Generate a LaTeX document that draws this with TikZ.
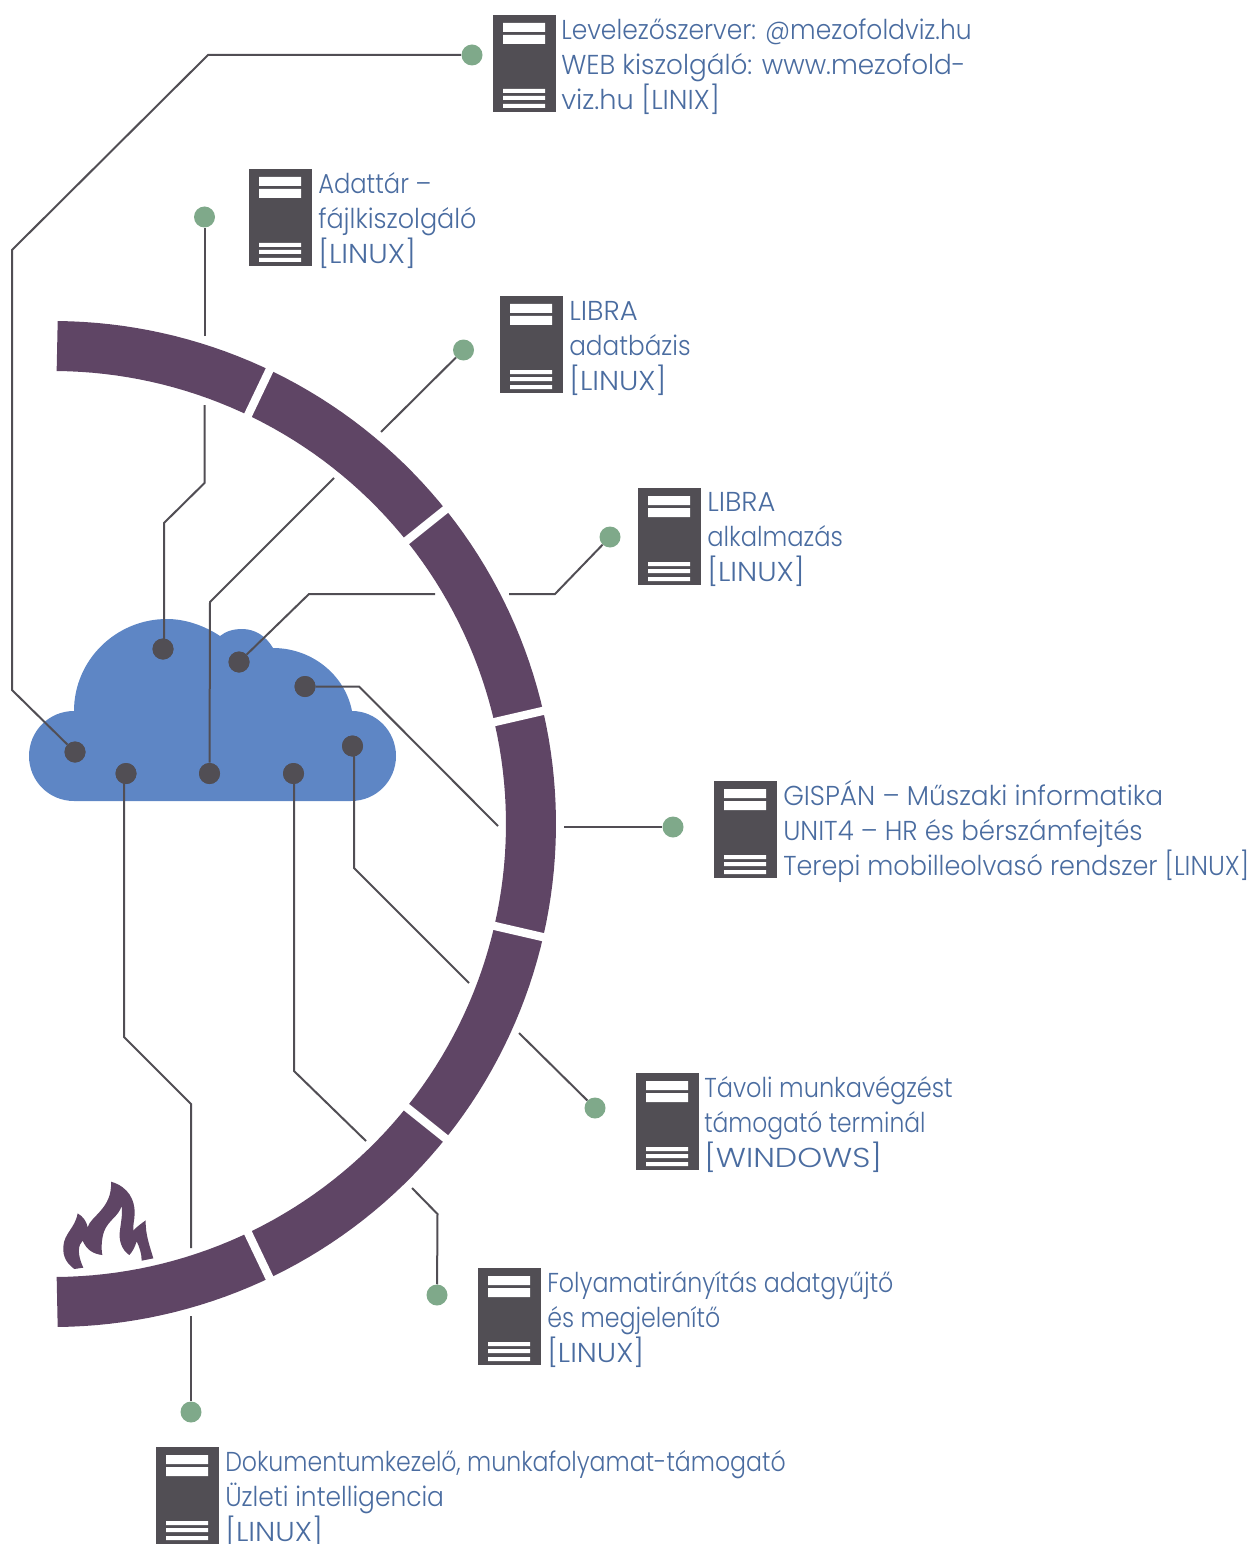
\documentclass[tikz,border=0pt]{standalone}
\usepackage{fontspec}
\setmainfont{Poppins Light}
\definecolor{plum}{HTML}{5F4565}
\definecolor{slatec}{HTML}{514E54}
\definecolor{cloudb}{HTML}{5E86C5}
\definecolor{leafg}{HTML}{7FA98A}
\definecolor{txtb}{HTML}{4A6CA0}
\newcommand{\firstline}{\rule{0pt}{18pt}}
\newcommand{\ls}[2]{{\addfontfeature{FakeStretch=#1}#2}}
\tikzset{
  x=0.75pt,y=-0.75pt,
  conn/.style={draw=slatec,line width=1.5pt,line join=miter},
  hub/.style={circle,fill=slatec,inner sep=0pt,minimum size=15.75pt},
  leaf/.style={circle,fill=leafg,inner sep=0pt,minimum size=15.75pt},
  lab/.style={anchor=north west,inner sep=0pt,align=left,text=txtb,font=\fontsize{20.5}{26.25}\selectfont},
  ring/.style={draw=plum,line width=37.5pt},
  cut/.style={draw=white,line width=6.2pt},
  serverpic/.pic={
    \fill[slatec] (0,0) rectangle (63,97);
    \fill[white] (10,8) rectangle (52,17) (10,20) rectangle (52,29)
      (10,74) rectangle (52,78) (10,81) rectangle (52,85) (10,89) rectangle (52,93);
  }
}
\begin{document}
\begin{tikzpicture}
\useasboundingbox (0,0) rectangle (1250,1544);
% cloud
\fill[cloudb] (74,801) .. controls (49,801) and (29,781) .. (29,756)
  .. controls (29,731) and (49,711) .. (74,711)
  .. controls (74,660) and (116,619) .. (167,619)
  .. controls (186,619) and (205,626) .. (220,636)
  .. controls (226,631) and (234,629) .. (242,629)
  .. controls (255,629) and (266,636) .. (273,648)
  .. controls (312,648) and (345,675) .. (352,711)
  .. controls (376,711) and (396,731) .. (396,756)
  .. controls (396,781) and (376,801) .. (351,801) -- cycle;
% ring
\draw[ring] plot[domain=-89.5:89.5,samples=120] ({53+478*cos(\x)},{824+478*sin(\x)});
\foreach \a in {-64.5,-38.7,-13,13,38.7,64.5}
  \draw[cut] ({53+445*cos(\a)},{824+445*sin(\a)}) -- ({53+510*cos(\a)},{824+510*sin(\a)});
% flame
\begin{scope}[shift={(40,1170)},x=0.25pt,y=-0.25pt]
\fill[plum] (103,297) .. controls (80,280) and (68,260) .. (70,230)
  .. controls (72,190) and (105,175) .. (113,130)
  .. controls (130,140) and (140,155) .. (143,172)
  .. controls (150,140) and (218,115) .. (213,35)
  .. controls (265,50) and (285,90) .. (284,130)
  .. controls (284,150) and (278,165) .. (280,182)
  .. controls (290,170) and (305,160) .. (317,151)
  .. controls (316,195) and (330,230) .. (340,265)
  -- (305,272)
  .. controls (305,250) and (298,230) .. (290,214)
  .. controls (285,230) and (278,245) .. (268,255)
  .. controls (245,240) and (235,210) .. (240,180)
  .. controls (243,155) and (248,135) .. (245,108)
  .. controls (235,140) and (205,150) .. (192,185)
  .. controls (185,205) and (183,235) .. (187,255)
  .. controls (160,252) and (140,240) .. (128,212)
  .. controls (115,225) and (110,250) .. (130,293)
  -- cycle;
\end{scope}
% hubs
\node[hub] (c1) at (75,752) {};
\node[hub] (c2) at (163,649) {};
\node[hub] (c3) at (209.5,773.5) {};
\node[hub] (c4) at (239,662) {};
\node[hub] (c5) at (305,686.5) {};
\node[hub] (c6) at (352.5,746) {};
\node[hub] (c7) at (293.5,773.5) {};
\node[hub] (c8) at (126,773.5) {};
% leaves
\node[leaf] (g1) at (472,55) {};
\node[leaf] (g2) at (204.5,217) {};
\node[leaf] (g3) at (463.5,350) {};
\node[leaf] (g4) at (610,537) {};
\node[leaf] (g5) at (673,827) {};
\node[leaf] (g6) at (595,1108) {};
\node[leaf] (g7) at (437,1295) {};
\node[leaf] (g8) at (191,1412) {};
% free ends at the ring
\coordinate (a2) at (204.5,405); \coordinate (b2) at (204.5,336);
\coordinate (a3) at (334,478); \coordinate (b3) at (381,432);
\coordinate (a4) at (435,594); \coordinate (b4) at (509,594);
\coordinate (a5) at (498,826); \coordinate (b5) at (564,827);
\coordinate (a6) at (469,983); \coordinate (b6) at (519,1033);
\coordinate (a7) at (366,1141); \coordinate (b7) at (412,1188);
\coordinate (a8) at (191,1248); \coordinate (b8) at (191,1316);
% connectors
\draw[conn] (c1) -- (12,690) -- (12,250) -- (208,55) -- (g1);
\draw[conn] (c2.center) ++(1,0) -- (164,523) -- (204.5,483) -- (a2);
\draw[conn] (b2) -- (g2);
\draw[conn] (c3) -- (210,602) -- (a3);
\draw[conn] (b3) -- (g3);
\draw[conn] (c4) -- (309,594) -- (a4);
\draw[conn] (b4) -- (555,594) -- (g4);
\draw[conn] (c5) -- (359,686.5) -- (a5);
\draw[conn] (b5) -- (g5);
\draw[conn] (c6.center) ++(1.5,0) -- (354,868) -- (a6);
\draw[conn] (b6) -- (g6);
\draw[conn] (c7.center) ++(0.5,0) -- (294,1071) -- (a7);
\draw[conn] (b7) -- (437.5,1214) -- (g7);
\draw[conn] (c8.center) ++(-2,0) -- (124,1037) -- (191,1104) -- (a8);
\draw[conn] (b8) -- (g8);
\node[hub] at (c1) {};\node[hub] at (c2) {};\node[hub] at (c3) {};\node[hub] at (c4) {};
\node[hub] at (c5) {};\node[hub] at (c6) {};\node[hub] at (c7) {};\node[hub] at (c8) {};
% servers
\pic at (493,15) {serverpic};
\pic at (249,169) {serverpic};
\pic at (500,296) {serverpic};
\pic at (638,488) {serverpic};
\pic at (714,781) {serverpic};
\pic at (636,1073) {serverpic};
\pic at (478,1268) {serverpic};
\pic at (156,1447) {serverpic};
% labels
\node[lab] (t1) at (561,15) {\firstline\ls{0.914}{Levelezőszerver: @mezofoldviz.hu}\\\ls{0.962}{WEB kiszolgáló: www.mezofold-}\\\ls{0.996}{viz.hu [LINIX]}};
\node[lab] (t2) at (318,169) {\firstline\ls{0.885}{Adattár –}\\\ls{0.932}{fájlkiszolgáló}\\\ls{1.078}{[LINUX]}};
\node[lab] (t3) at (569,296) {\firstline\ls{1.008}{LIBRA}\\\ls{0.904}{adatbázis}\\\ls{1.07}{[LINUX]}};
\node[lab] (t4) at (707,487) {\firstline\ls{1.003}{LIBRA}\\\ls{0.885}{alkalmazás}\\\ls{1.075}{[LINUX]}};
\node[lab] (t5) at (783,780) {\firstline\ls{0.966}{GISPÁN – Műszaki informatika}\\\ls{0.951}{UNIT4 – HR és bérszámfejtés}\\\ls{0.932}{Terepi mobilleolvasó rendszer [LINUX]}};
\node[lab] (t6) at (704,1073) {\firstline\ls{0.88}{Távoli munkavégzést}\\\ls{0.857}{támogató terminál}\\\ls{1.156}{[WINDOWS]}};
\node[lab] (t7) at (547,1268) {\firstline\ls{0.868}{Folyamatirányítás adatgyűjtő}\\\ls{0.868}{és megjelenítő}\\\ls{1.068}{[LINUX]}};
\node[lab] (t8) at (225,1447) {\firstline\ls{0.865}{Dokumentumkezelő, munkafolyamat-támogató}\\\ls{0.911}{Üzleti intelligencia}\\\ls{1.078}{[LINUX]}};
\end{tikzpicture}
\end{document}
